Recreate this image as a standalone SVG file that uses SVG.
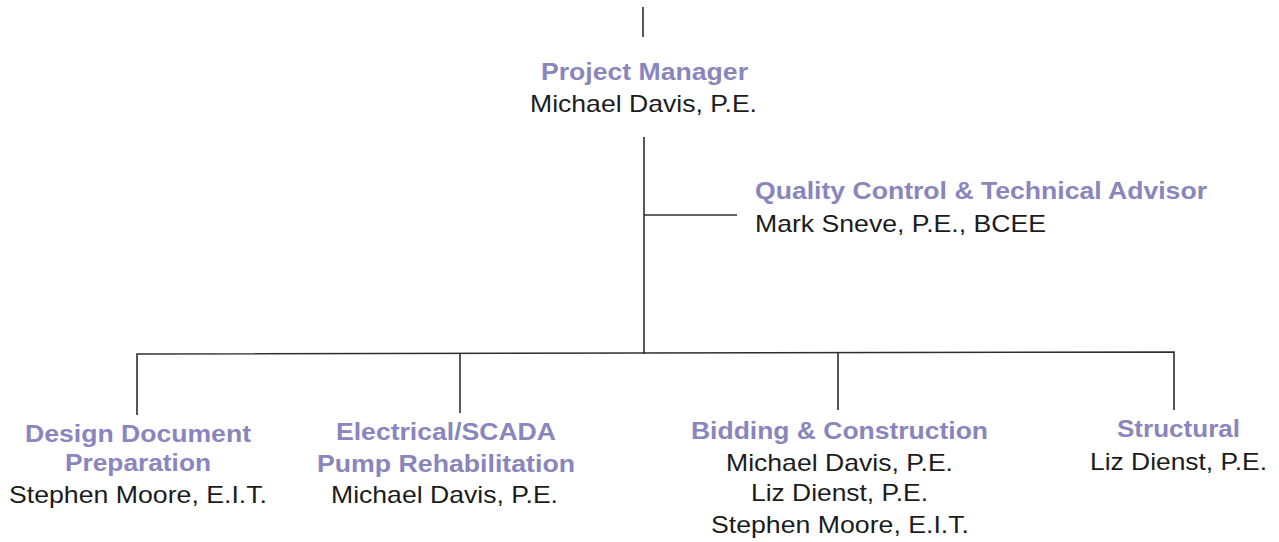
<svg xmlns="http://www.w3.org/2000/svg" width="1279" height="542" viewBox="0 0 1279 542">
<style>
text{font-family:"Liberation Sans",Arial,sans-serif;text-anchor:middle}
.t{font-size:23px;font-weight:bold;fill:#8a85bc}
.n{font-size:24px;fill:#1c1c1c}
.ln{stroke:#2e2e2e;stroke-width:1.6;fill:none}
</style>
<rect width="1279" height="542" fill="#ffffff"/>
<g id="connectors">
<line class="ln" x1="643" y1="7" x2="643" y2="37"/>
<line class="ln" x1="644" y1="137" x2="644" y2="354"/>
<line class="ln" x1="644" y1="215" x2="737" y2="215"/>
<polyline class="ln" points="137,415 137,354 1174,352 1174,410"/>
<line class="ln" x1="460" y1="354" x2="460" y2="413"/>
<line class="ln" x1="838" y1="353" x2="838" y2="410"/>
</g>
<g id="pm">
<text class="t" x="644.5" y="80" textLength="207" lengthAdjust="spacingAndGlyphs">Project Manager</text>
<text class="n" x="643.5" y="112" textLength="227" lengthAdjust="spacingAndGlyphs">Michael Davis, P.E.</text>
</g>
<g id="qc">
<text class="t" x="981" y="199" textLength="452" lengthAdjust="spacingAndGlyphs">Quality Control &amp; Technical Advisor</text>
<text class="n" x="900.5" y="232" textLength="291" lengthAdjust="spacingAndGlyphs">Mark Sneve, P.E., BCEE</text>
</g>
<g id="design">
<text class="t" x="138" y="442" textLength="226" lengthAdjust="spacingAndGlyphs">Design Document</text>
<text class="t" x="138" y="471" textLength="146" lengthAdjust="spacingAndGlyphs">Preparation</text>
<text class="n" x="138" y="503" textLength="258" lengthAdjust="spacingAndGlyphs">Stephen Moore, E.I.T.</text>
</g>
<g id="electrical">
<text class="t" x="446" y="440" textLength="220" lengthAdjust="spacingAndGlyphs">Electrical/SCADA</text>
<text class="t" x="446" y="472" textLength="258" lengthAdjust="spacingAndGlyphs">Pump Rehabilitation</text>
<text class="n" x="444.5" y="503" textLength="227" lengthAdjust="spacingAndGlyphs">Michael Davis, P.E.</text>
</g>
<g id="bidding">
<text class="t" x="839.5" y="439" textLength="297" lengthAdjust="spacingAndGlyphs">Bidding &amp; Construction</text>
<text class="n" x="839.5" y="471" textLength="227" lengthAdjust="spacingAndGlyphs">Michael Davis, P.E.</text>
<text class="n" x="839.5" y="501" textLength="177" lengthAdjust="spacingAndGlyphs">Liz Dienst, P.E.</text>
<text class="n" x="840" y="533" textLength="258" lengthAdjust="spacingAndGlyphs">Stephen Moore, E.I.T.</text>
</g>
<g id="structural">
<text class="t" x="1178.5" y="437" textLength="123" lengthAdjust="spacingAndGlyphs">Structural</text>
<text class="n" x="1178.5" y="470" textLength="177" lengthAdjust="spacingAndGlyphs">Liz Dienst, P.E.</text>
</g>
</svg>
